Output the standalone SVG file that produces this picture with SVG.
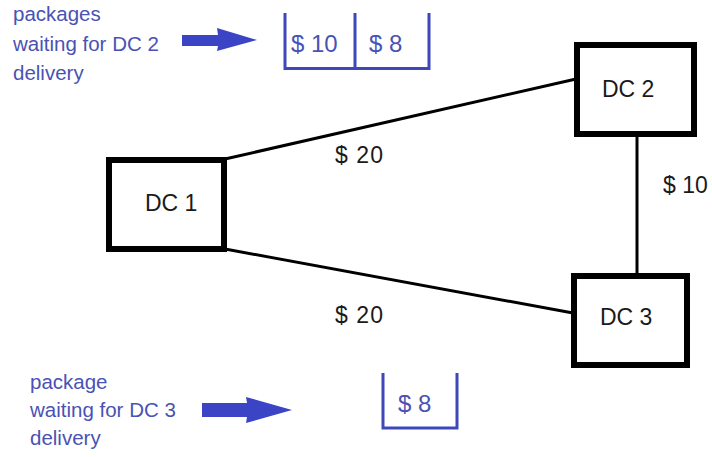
<svg xmlns="http://www.w3.org/2000/svg" width="712" height="457" viewBox="0 0 712 457">
<style>
.node{fill:#fff;stroke:#000;stroke-width:6}
.lbl{font-family:"Liberation Sans",Arial,sans-serif;font-size:23px;fill:#1a1a1a}
.note{font-family:"Liberation Sans",Arial,sans-serif;font-size:20.5px;fill:#4a52b4}
.val{font-family:"Liberation Sans",Arial,sans-serif;font-size:24px;fill:#4a52b4}
.bin{fill:none;stroke:#3e48b8;stroke-width:3}
.arrow{fill:#3b44c4}
.edge{stroke:#000;stroke-width:3;fill:none}
</style>
<rect width="712" height="457" fill="#fff"/>
<g id="connectors">
<line class="edge" x1="225" y1="159" x2="576" y2="79"/>
<line class="edge" x1="225" y1="249" x2="573" y2="313"/>
<line class="edge" x1="637" y1="136" x2="637" y2="274"/>
</g>
<g id="dc1"><rect class="node" x="109" y="160" width="115" height="89"/><text class="lbl" x="145" y="211">DC 1</text></g>
<g id="dc2"><rect class="node" x="577" y="45" width="117" height="89"/><text class="lbl" x="602" y="97">DC 2</text></g>
<g id="dc3"><rect class="node" x="574" y="276" width="113" height="89"/><text class="lbl" x="600" y="325">DC 3</text></g>
<g id="edge-labels">
<text class="lbl" x="335" y="163" textLength="48">$ 20</text>
<text class="lbl" x="335" y="323" textLength="48">$ 20</text>
<text class="lbl" x="663" y="193">$ 10</text>
</g>
<g id="queue-dc2">
<text class="note" x="13" y="21">packages</text>
<text class="note" x="13" y="51">waiting for DC 2</text>
<text class="note" x="13" y="80">delivery</text>
<polygon class="arrow" points="182,35 218,35 217,28 257,40 217,51 218,46 182,46"/>
<path class="bin" d="M285,13 V68.5 H429 V13 M355,13 V68.5"/>
<text class="val" x="291" y="52">$ 10</text>
<text class="val" x="369" y="52">$ 8</text>
</g>
<g id="queue-dc3">
<text class="note" x="30" y="389">package</text>
<text class="note" x="30" y="417">waiting for DC 3</text>
<text class="note" x="30" y="445">delivery</text>
<polygon class="arrow" points="202,403 247,403 246,397 292,410 246,423 247,417 202,417"/>
<path class="bin" d="M383,373 V428 H457 V373"/>
<text class="val" x="398" y="412">$ 8</text>
</g>
</svg>
